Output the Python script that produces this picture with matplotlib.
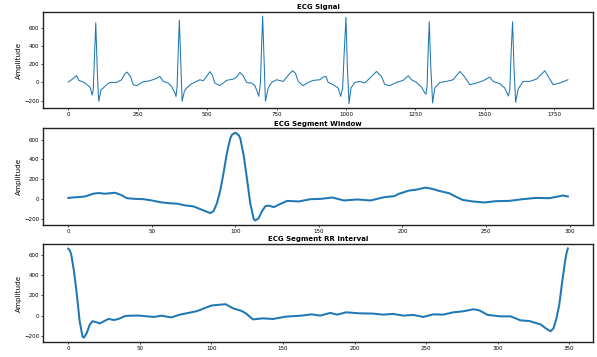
import matplotlib
matplotlib.use("Agg")
import matplotlib.pyplot as plt
import numpy as np

# full ECG trace: sample index / amplitude
sig_x = [0, 12, 24, 30, 38, 48, 60, 72, 80, 86, 90, 94, 99, 104, 107, 110, 118, 126, 138, 150,
         174, 192, 204, 212, 224, 234, 246, 270, 294, 318, 330, 342, 360, 372, 384, 388, 392, 396,
         400, 405, 410, 418, 426, 444, 462, 474, 486, 498, 510, 518, 528, 546, 570, 594, 606, 618,
         630, 642, 660, 672, 680, 686, 692, 696, 700, 705, 710, 720, 732, 750, 774, 798, 808, 818,
         828, 846, 864, 882, 906, 918, 928, 936, 954, 972, 981, 988, 994, 1000, 1005, 1011, 1018,
         1032, 1050, 1068, 1086, 1110, 1128, 1140, 1158, 1182, 1206, 1224, 1236, 1254, 1272, 1284,
         1288, 1292, 1296, 1300, 1305, 1312, 1320, 1338, 1362, 1386, 1410, 1428, 1446, 1470, 1494,
         1518, 1530, 1554, 1572, 1585, 1590, 1595, 1600, 1605, 1611, 1620, 1638, 1662, 1686, 1716,
         1734, 1746, 1770, 1799]
sig_y = [4, 29, 58, 75, 22, 11, -7, -36, -62, -140, -80, 250, 655, 175, -60, -207, -80, -62, -25, 0,
         0, 29, 95, 113, 65, -25, -36, 7, 18, 44, 65, 11, -7, -44, -116, -155, -44, 350,
         684, 250, -207, -98, -62, -15, 11, 29, 18, 65, 118, 84, -7, -36, 22, 36, 58, 109,
         73, 0, -7, -36, -98, -153, -7, 380, 727, 250, -207, -62, 0, 29, 11, 100, 128, 100,
         11, -36, 0, 22, 29, 58, 65, 0, -25, -62, -153, -62, 350, 713, 175, -233, -62,
         0, 11, -7, 47, 120, 65, -25, -36, 0, 22, 73, 29, 0, -51, -116,
         -130, -40, 350, 665, 200, -225, -62, 0, 11, 29, 120, 58, -25, -7, 18,
         58, 11, -15, -62, -150, -80, 350, 665, 175, -218, -73, 11, 11, 36, 127,
         36, -25, -7, 29]

# one beat window (R peak at sample 100)
win_x = [0, 5, 10, 15, 18, 22, 28, 32, 35, 40, 45, 50, 55, 60, 65, 70, 75, 80, 85, 87, 89, 91,
         93, 95, 97, 98, 100, 102, 103, 105, 107, 109, 111, 112, 114, 116, 118, 120, 123, 126,
         131, 138, 145, 151, 158, 165, 173, 181, 189, 195, 198, 204, 208, 214, 218, 222, 228,
         232, 236, 242, 249, 256, 264, 272, 280, 288, 296, 299]
win_y = [13, 20, 27, 55, 62, 55, 65, 40, 10, 3, 0, -13, -30, -40, -45, -63, -73, -107, -140, -120,
         -40, 90, 270, 470, 615, 650, 670, 645, 610, 440, 200, -50, -200, -215, -190, -120, -70,
         -65, -80, -55, -17, -23, 0, 3, 17, -13, -3, -13, 20, 30, 55, 87, 95, 117, 103, 83, 60,
         25, -7, -23, -33, -20, -17, 0, 13, 10, 37, 27]

# R to R interval
rr_x = [0, 1, 2, 4, 6, 8, 10, 11, 13, 15, 17, 20, 22, 25, 28, 32, 35, 40, 45, 50, 55, 60, 65, 70,
        72, 78, 85, 90, 95, 100, 105, 110, 115, 121, 124, 129, 136, 143, 152, 163, 170, 176,
        183, 188, 194, 203, 213, 220, 227, 234, 241, 248, 255, 262, 269, 276, 283, 287, 293,
        302, 309, 316, 322, 330, 334, 337, 339, 341, 343, 345, 347, 348, 349]
rr_y = [663, 648, 610, 440, 207, -60, -210, -217, -170, -90, -55, -67, -77, -55, -33, -43, -33, -3,
        0, 0, -7, -13, 0, -13, -17, 10, 30, 45, 73, 100, 107, 113, 73, 47, 23, -37, -27, -33,
        -10, 0, 13, 0, 27, 10, 33, 23, 20, 10, 17, 0, 7, -13, 13, 10, 33, 43, 63, 53, 7, -7,
        -7, -47, -53, -87, -130, -155, -125, -30, 107, 330, 530, 615, 665]

panels = [
    ("ECG Signal", sig_x, sig_y, 0.75, [0.0725, 0.6975, 0.9205, 0.2695]),
    ("ECG Segment Window", win_x, win_y, 1.45, [0.0725, 0.370, 0.9205, 0.2706]),
    ("ECG Segment RR Interval", rr_x, rr_y, 1.45, [0.0725, 0.042, 0.9205, 0.2745]),
]

fig = plt.figure(figsize=(5.97, 3.57), dpi=100)
for title, xs, ys, lw, rect in panels:
    ax = fig.add_axes(rect)
    ax.plot(xs, ys, color="#1f77b4", linewidth=lw)
    ax.set_title(title, fontsize=5, fontweight="bold", pad=2)
    ax.set_ylabel("Amplitude", fontsize=5.2, labelpad=1.5)
    ax.set_yticks([-200, 0, 200, 400, 600])
    ax.tick_params(labelsize=4, length=1.5, width=0.5, pad=1.5)
    for s in ax.spines.values():
        s.set_linewidth(1.0)
        s.set_color("#222222")

fig.savefig("out.png", dpi=100)
